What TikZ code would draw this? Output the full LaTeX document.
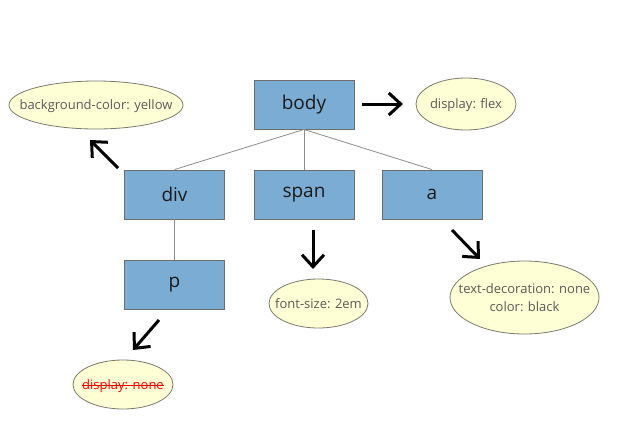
\documentclass[tikz,border=0pt]{standalone}
\usepackage{fontspec}
\setmainfont{Open Sans}
\usetikzlibrary{shapes.geometric, arrows.meta}
\definecolor{boxblue}{HTML}{7BACD3}
\definecolor{boxline}{HTML}{6E6E6E}
\definecolor{boxtext}{HTML}{1A1A1A}
\definecolor{ruleyellow}{HTML}{FFFFD6}
\definecolor{ruleline}{HTML}{7A7A6E}
\definecolor{ruletext}{HTML}{5A5A5A}
\definecolor{treeline}{HTML}{8C8C8C}
\newcommand\strikeout[1]{\leavevmode\setbox0\hbox{#1}\rlap{\copy0}\rule[0.3em]{\wd0}{0.7pt}}
\newcommand\nowidth[1]{\makebox[0pt]{#1}}

\begin{document}
\begin{tikzpicture}[x=1pt, y=-1pt, >={Straight Barb[length=12pt, width=22pt]},
	tag/.style={draw=boxline, line width=0.9pt, fill=boxblue, minimum width=100pt, minimum height=49pt, inner sep=0pt, text=boxtext, font=\fontsize{19}{21}\selectfont},
	rule/.style={ellipse, draw=ruleline, line width=0.8pt, fill=ruleyellow, inner sep=0pt, text=ruletext, align=center, text depth=0pt, font=\fontsize{13}{18}\selectfont},
	hint/.style={->, line width=3pt}]
	\useasboundingbox (0, 0) rectangle (626, 421);
	\node[tag] (body) at (304, 104.5) {body};
	\node[tag] (div) at (174.5, 194.5) {div};
	\node[tag] (span) at (304, 194.5) {span};
	\node[tag] (a) at (432, 194.5) {a};
	\node[tag] (p) at (174.5, 284.5) {p};
	\draw[treeline, line width=0.8pt] (body.south) -- (div.north);
	\draw[treeline, line width=0.8pt] (body.south) -- (span.north);
	\draw[treeline, line width=0.8pt] (body.south) -- (a.north);
	\draw[treeline, line width=0.8pt] (div.south) -- (p.north);
	\node[rule, minimum width=174pt, minimum height=48pt] (bg) at (96, 105) {\nowidth{background-color: yellow}};
	\node[rule, minimum width=100pt, minimum height=52pt] (flex) at (466, 104) {\nowidth{display: flex}};
	\node[rule, minimum width=99pt, minimum height=49pt] (size) at (318.5, 303.5) {\nowidth{font-size: 2em}};
	\node[rule, minimum width=100pt, minimum height=49pt] (none) at (123, 384.5) {\nowidth{\textcolor{red}{\strikeout{display: none}}}};
	\node[rule, minimum width=149pt, minimum height=73pt] (deco) at (524.5, 297.5) {\nowidth{text-decoration: none}\\\nowidth{color: black}};
	\coordinate (bgfrom) at (118, 168);
	\coordinate (bgto) at (90, 140);
	\coordinate (flexfrom) at (362, 104);
	\coordinate (flexto) at (403, 104);
	\coordinate (sizefrom) at (313, 230);
	\coordinate (sizeto) at (313, 269);
	\coordinate (nonefrom) at (159, 320);
	\coordinate (noneto) at (133, 350);
	\coordinate (decofrom) at (452, 230);
	\coordinate (decoto) at (480, 259);
	\draw[hint] (bgfrom) -- (bgto);
	\draw[hint] (flexfrom) -- (flexto);
	\draw[hint] (sizefrom) -- (sizeto);
	\draw[hint] (nonefrom) -- (noneto);
	\draw[hint] (decofrom) -- (decoto);
\end{tikzpicture}
\end{document}
